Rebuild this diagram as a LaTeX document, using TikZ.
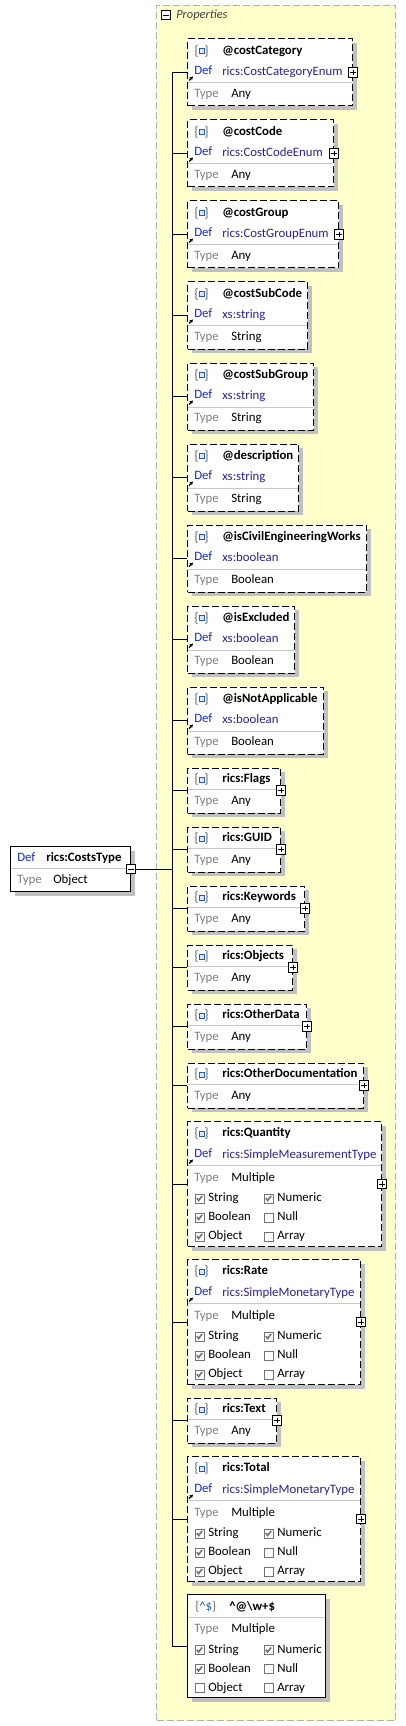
\documentclass[tikz,border=0pt]{standalone}
\usepackage{fontspec}
\setmainfont{Carlito}
\usetikzlibrary{calc,shadows,arrows.meta}

\definecolor{propfill}{RGB}{255,255,204}
\definecolor{propline}{RGB}{176,176,176}
\definecolor{deflbl}{RGB}{20,40,230}
\definecolor{defval}{RGB}{45,30,160}
\definecolor{typegray}{RGB}{128,128,128}
\definecolor{sepgray}{RGB}{200,200,200}
\definecolor{shade}{RGB}{192,192,192}
\definecolor{iconblue}{RGB}{30,90,210}
\definecolor{iconfill}{RGB}{215,232,255}
\definecolor{bracegray}{RGB}{110,110,110}

\tikzset{
  attricon/.pic={
    \node[bracetxt] at (-5,0) {\{};
    \draw[iconblue, fill=iconfill, line width=0.7pt] (-2.5,-2.5) rectangle (2.5,2.5);
    \node[bracetxt] at (5,0) {\}};
  }
}

\begin{document}
\begin{tikzpicture}[x=0.75pt,y=-0.75pt,
    every node/.style={font=\fontsize{9.6}{11}\selectfont},
    attrbox/.style={draw, fill=white, line width=0.75pt, dash pattern=on 5.25pt off 2.25pt,
      inner sep=0, anchor=west,
      drop shadow={shadow xshift=3pt, shadow yshift=-3pt, fill=shade, opacity=1}},
    solidbox/.style={attrbox, solid},
    txt/.style={inner sep=0, anchor=mid west},
    nametxt/.style={txt, font=\fontsize{9.6}{11}\selectfont\bfseries},
    deftxt/.style={txt, text=deflbl},
    defvaltxt/.style={txt, text=defval},
    typetxt/.style={txt, text=typegray},
    bracetxt/.style={inner sep=0, text=bracegray, font=\fontsize{10.5}{11}\selectfont},
    sepline/.style={sepgray, line width=0.75pt},
    conn/.style={line width=0.75pt},
    refarrow/.style={line width=0.9pt, -{Stealth[length=2.6pt, width=2.8pt]}},
    plusbox/.style={draw, fill=white, line width=0.6pt, minimum size=7pt, inner sep=0,
      path picture={\draw[line width=0.6pt]
        ([xshift=1.3pt]path picture bounding box.west) -- ([xshift=-1.3pt]path picture bounding box.east)
        ([yshift=-1.3pt]path picture bounding box.north) -- ([yshift=1.3pt]path picture bounding box.south);}},
    minusbox/.style={draw, fill=white, line width=0.6pt, minimum size=7pt, inner sep=0,
      path picture={\draw[line width=0.6pt]
        ([xshift=1.3pt]path picture bounding box.west) -- ([xshift=-1.3pt]path picture bounding box.east);}},
    chk/.style={draw=black!55, fill=white, line width=0.6pt, minimum size=6.6pt, inner sep=0},
    ticked/.style={chk, path picture={\draw[line width=1.2pt]
        ([shift={(-2pt,0.3pt)}]path picture bounding box.center) -- ([shift={(-0.7pt,-1.5pt)}]path picture bounding box.center)
        -- ([shift={(2pt,1.9pt)}]path picture bounding box.center);}}
  ]
  \fill[white] (0,0) rectangle (406,1726);
  \useasboundingbox (0,0) rectangle (406,1726);

  % Properties group
  \node[draw=propline, fill=propfill, line width=0.75pt, dash pattern=on 5.25pt off 2.25pt,
    inner sep=0, anchor=north west, minimum width=179.25pt, minimum height=1286.25pt] (props) at (156,5) {};
  \node[minusbox] (propsMinus) at (166,15) {};
  \node[txt, font=\fontsize{9.3}{10}\selectfont\itshape, text=black!75] at (176,15) {Properties};
  \coordinate (bus) at (172,0);

  % the type itself
  \node[solidbox, anchor=north west, minimum width=90pt, minimum height=33.75pt] (costs) at (10,846) {};
  \node[deftxt] at (17,858) {Def};
  \node[nametxt] at (46,858) {rics:CostsType};
  \draw[sepline] (11,868.5) -- (129,868.5);
  \node[typetxt] at (17,880) {Type};
  \node[txt] at (53,880) {Object};
  \node[minusbox] (costsMinus) at (costs.east) {};

  % attributes
  \foreach \nm/\df/\ty/\cy/\bw/\pl in {
      costCategory/rics:CostCategoryEnum/Any/72.5/165/1,
      costCode/rics:CostCodeEnum/Any/153.5/146/1,
      costGroup/rics:CostGroupEnum/Any/234.5/151/1,
      costSubCode/xs:string/String/315.5/120/0,
      costSubGroup/xs:string/String/396.5/126/0,
      description/xs:string/String/477.5/111/0,
      isCivilEngineeringWorks/xs:boolean/Boolean/558.5/179/0,
      isExcluded/xs:boolean/Boolean/639.5/107/0,
      isNotApplicable/xs:boolean/Boolean/720.5/136/0}{
    \node[attrbox, minimum width=\bw*0.75pt, minimum height=50.25pt] (\nm) at (187,\cy) {};
    \pic at ($(\nm.north west)+(14.5,12.5)$) {attricon};
    \node[nametxt] at ($(\nm.north west)+(35,12.5)$) {@\nm};
    \node[deftxt] at ($(\nm.north west)+(7,32.5)$) {Def};
    \node[defvaltxt] at ($(\nm.north west)+(35,33.5)$) {\df};
    \draw[refarrow] ($(\nm.north west)+(2,42)$) -- ++(4,-4);
    \draw[sepline] ($(\nm.north west)+(1,44.5)$) -- ($(\nm.north east)+(-1,44.5)$);
    \node[typetxt] at ($(\nm.north west)+(7,56)$) {Type};
    \node[txt] at ($(\nm.north west)+(44,56)$) {\ty};
    \ifnum\pl=1 \node[plusbox] at (\nm.east) {};\fi
    \draw[conn] (bus|-\nm.west) -- (\nm.west);
  }

  % elements of any type
  \foreach \nm/\cy/\bw in {Flags/790.5/93, GUID/849.5/93, Keywords/908.5/117,
      Objects/967.5/105, OtherData/1026.5/119, OtherDocumentation/1085.5/176, Text/1420.5/89}{
    \node[attrbox, minimum width=\bw*0.75pt, minimum height=33.75pt] (\nm) at (187,\cy) {};
    \pic at ($(\nm.north west)+(14.5,12)$) {attricon};
    \node[nametxt] at ($(\nm.north west)+(35,12)$) {rics:\nm};
    \draw[sepline] ($(\nm.north west)+(1,21.5)$) -- ($(\nm.north east)+(-1,21.5)$);
    \node[typetxt] at ($(\nm.north west)+(7,34)$) {Type};
    \node[txt] at ($(\nm.north west)+(44,34)$) {Any};
    \node[plusbox] at (\nm.east) {};
    \draw[conn] (bus|-\nm.west) -- (\nm.west);
  }

  % elements of several types
  \foreach \nm/\df/\cy/\bw in {Quantity/rics:SimpleMeasurementType/1184/194,
      Rate/rics:SimpleMonetaryType/1322/173, Total/rics:SimpleMonetaryType/1519/173}{
    \node[attrbox, minimum width=\bw*0.75pt, minimum height=93.75pt] (\nm) at (187,\cy) {};
    \pic at ($(\nm.north west)+(14.5,12.5)$) {attricon};
    \node[nametxt] at ($(\nm.north west)+(35,12.5)$) {rics:\nm};
    \node[deftxt] at ($(\nm.north west)+(7,33)$) {Def};
    \node[defvaltxt] at ($(\nm.north west)+(35,34)$) {\df};
    \draw[refarrow] ($(\nm.north west)+(2,42.5)$) -- ++(4,-4);
    \draw[sepline] ($(\nm.north west)+(1,44.5)$) -- ($(\nm.north east)+(-1,44.5)$);
    \node[typetxt] at ($(\nm.north west)+(7,57)$) {Type};
    \node[txt] at ($(\nm.north west)+(44,57)$) {Multiple};
    \node[ticked] at ($(\nm.north west)+(12.5,77.5)$) {};
    \node[txt] at ($(\nm.north west)+(21,77.5)$) {String};
    \node[ticked] at ($(\nm.north west)+(81.5,77.5)$) {};
    \node[txt] at ($(\nm.north west)+(90,77.5)$) {Numeric};
    \node[ticked] at ($(\nm.north west)+(12.5,96.5)$) {};
    \node[txt] at ($(\nm.north west)+(21,96.5)$) {Boolean};
    \node[chk] at ($(\nm.north west)+(81.5,96.5)$) {};
    \node[txt] at ($(\nm.north west)+(90,96.5)$) {Null};
    \node[ticked] at ($(\nm.north west)+(12.5,115.5)$) {};
    \node[txt] at ($(\nm.north west)+(21,115.5)$) {Object};
    \node[chk] at ($(\nm.north west)+(81.5,115.5)$) {};
    \node[txt] at ($(\nm.north west)+(90,115.5)$) {Array};
    \node[plusbox] at (\nm.east) {};
    \draw[conn] (bus|-\nm.west) -- (\nm.west);
  }

  % pattern properties
  \node[solidbox, minimum width=103.5pt, minimum height=77.25pt] (pattern) at (187,1646) {};
  \node[txt] at ($(pattern.north west)+(8,13)$)
    {{\color{bracegray}\{}{\color{iconblue}\textasciicircum\$}{\color{bracegray}\}}};
  \node[nametxt] at ($(pattern.north west)+(42,13)$) {\textasciicircum @\textbackslash w+\$};
  \draw[sepline] ($(pattern.north west)+(1,23)$) -- ($(pattern.north east)+(-1,23)$);
  \node[typetxt] at ($(pattern.north west)+(7,35)$) {Type};
  \node[txt] at ($(pattern.north west)+(44,35)$) {Multiple};
  \node[ticked] at ($(pattern.north west)+(12.5,56)$) {};
  \node[txt] at ($(pattern.north west)+(21,56)$) {String};
  \node[ticked] at ($(pattern.north west)+(81.5,56)$) {};
  \node[txt] at ($(pattern.north west)+(90,56)$) {Numeric};
  \node[ticked] at ($(pattern.north west)+(12.5,75)$) {};
  \node[txt] at ($(pattern.north west)+(21,75)$) {Boolean};
  \node[chk] at ($(pattern.north west)+(81.5,75)$) {};
  \node[txt] at ($(pattern.north west)+(90,75)$) {Null};
  \node[chk] at ($(pattern.north west)+(12.5,94)$) {};
  \node[txt] at ($(pattern.north west)+(21,94)$) {Object};
  \node[chk] at ($(pattern.north west)+(81.5,94)$) {};
  \node[txt] at ($(pattern.north west)+(90,94)$) {Array};
  \draw[conn] (bus|-pattern.west) -- (pattern.west);

  % connectors
  \draw[conn] (bus|-costCategory.west) -- (bus|-pattern.west);
  \draw[conn] (costsMinus.east) -- (bus|-costsMinus.east);
\end{tikzpicture}
\end{document}
